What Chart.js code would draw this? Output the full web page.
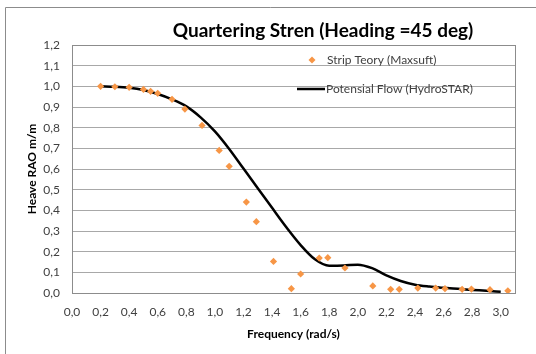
<!DOCTYPE html>
<html>
<head>
<meta charset="utf-8">
<script src="https://cdn.jsdelivr.net/npm/chart.js@4"></script>
<style>
  html, body { margin: 0; padding: 0; background: #fff; }
  #wrap { width: 536px; height: 354px; }
</style>
</head>
<body>
<div id="wrap"><canvas id="chart" width="536" height="354"></canvas></div>
<script>
// Strip theory points (Maxsurf)
const stripFreq = [0.20, 0.30, 0.40, 0.50, 0.55, 0.60, 0.70, 0.79, 0.91, 1.03, 1.10, 1.22, 1.29, 1.41, 1.535, 1.60, 1.73, 1.79, 1.91, 2.105, 2.23, 2.29, 2.42, 2.545, 2.61, 2.73, 2.795, 2.925, 3.05];
const stripRao  = [1.00, 0.998, 0.995, 0.985, 0.976, 0.966, 0.937, 0.89, 0.811, 0.69, 0.613, 0.44, 0.345, 0.153, 0.021, 0.092, 0.169, 0.171, 0.121, 0.034, 0.018, 0.018, 0.024, 0.024, 0.021, 0.018, 0.019, 0.016, 0.011];

// Potential flow curve (HydroSTAR)
const flowFreq = [0.2, 0.3, 0.4, 0.5, 0.6, 0.7, 0.8, 0.9, 1.0, 1.1, 1.2, 1.3, 1.4, 1.5, 1.6, 1.7, 1.8, 1.9, 2.0, 2.1, 2.2, 2.3, 2.4, 2.5, 2.6, 2.7, 2.8, 2.9, 3.0];
const flowRao  = [1.0, 0.998, 0.993, 0.982, 0.963, 0.937, 0.903, 0.850, 0.782, 0.697, 0.602, 0.507, 0.412, 0.318, 0.232, 0.163, 0.132, 0.133, 0.137, 0.12, 0.085, 0.058, 0.040, 0.031, 0.025, 0.020, 0.015, 0.011, 0.006];

const xTicks = [0, 0.2, 0.4, 0.6, 0.8, 1.0, 1.2, 1.4, 1.6, 1.8, 2.0, 2.2, 2.4, 2.6, 2.8, 3.0];

const chartTitle = 'Quartering Stren (Heading =45 deg)';
const xTitle = 'Frequency (rad/s)';
const yTitle = 'Heave RAO m/m';
const stripLabel = 'Strip Teory (Maxsuft)';
const flowLabel = 'Potensial Flow (HydroSTAR)';

const FONT = 'Lato, "Open Sans", sans-serif';
const ORANGE = '#F79646';

const toPts = (xs, ys) => xs.map((x, i) => ({ x: x, y: ys[i] }));
const fmt = v => v.toFixed(1).replace('.', ',');

// draws frame, title, axis titles and the legend like the excel sheet
const decor = {
  id: 'decor',
  beforeDraw(chart) {
    const c = chart.ctx;
    c.save();
    c.strokeStyle = '#8c8c8c';
    c.lineWidth = 1;
    c.beginPath();
    c.moveTo(5.5, 354);
    c.lineTo(5.5, 7.5);
    c.lineTo(536, 7.5);
    c.stroke();
    c.restore();
  },
  afterDraw(chart) {
    const c = chart.ctx;
    const a = chart.chartArea;
    c.save();
    // plot border
    c.strokeStyle = '#8c8c8c';
    c.lineWidth = 1;
    c.strokeRect(Math.round(a.left) + 0.5, Math.round(a.top) + 0.5, Math.round(a.right - a.left), Math.round(a.bottom - a.top));

    c.fillStyle = '#000';
    c.textAlign = 'center';
    c.textBaseline = 'middle';
    c.font = 'bold 19px ' + FONT;
    c.fillText(chartTitle, 323, 31);

    c.font = 'bold 12px ' + FONT;
    c.fillText(xTitle, (a.left + a.right) / 2, 334);
    c.save();
    c.translate(32, (a.top + a.bottom) / 2);
    c.rotate(-Math.PI / 2);
    c.fillText(yTitle, 0, 0);
    c.restore();

    // legend
    c.font = '12px ' + FONT;
    c.textAlign = 'left';
    c.fillStyle = '#404040';
    c.fillText(stripLabel, 327, 60);
    c.fillText(flowLabel, 326, 89);
    c.fillStyle = ORANGE;
    c.beginPath();
    c.moveTo(312, 56.5); c.lineTo(315.5, 60); c.lineTo(312, 63.5); c.lineTo(308.5, 60);
    c.closePath();
    c.fill();
    c.strokeStyle = '#000';
    c.lineWidth = 2.5;
    c.beginPath();
    c.moveTo(297, 89); c.lineTo(325, 89);
    c.stroke();
    c.restore();
  }
};

new Chart(document.getElementById('chart'), {
  type: 'scatter',
  data: {
    datasets: [
      {
        label: stripLabel,
        data: toPts(stripFreq, stripRao),
        pointStyle: 'rectRot',
        pointRadius: 3.6,
        pointBackgroundColor: ORANGE,
        pointBorderColor: ORANGE,
        pointBorderWidth: 0,
        showLine: false,
        order: 1
      },
      {
        label: flowLabel,
        data: toPts(flowFreq, flowRao),
        showLine: true,
        borderColor: '#000',
        borderWidth: 2.5,
        pointRadius: 0,
        cubicInterpolationMode: 'monotone',
        order: 2
      }
    ]
  },
  options: {
    responsive: false,
    animation: false,
    layout: { padding: { top: 45, right: 21, left: 0, bottom: 0 } },
    plugins: {
      legend: { display: false },
      title: { display: false },
      tooltip: { enabled: false }
    },
    scales: {
      x: {
        type: 'linear',
        min: 0,
        max: 3.1,
        afterFit: s => { s.height = 61; },
        afterBuildTicks: s => { s.ticks = xTicks.map(v => ({ value: v })); },
        grid: { display: false, drawTicks: false },
        border: { display: true, color: '#8c8c8c' },
        ticks: {
          padding: 12,
          color: '#404040',
          font: { family: FONT, size: 12 },
          maxRotation: 0,
          autoSkip: false,
          callback: v => fmt(v)
        }
      },
      y: {
        min: 0,
        max: 1.2,
        afterFit: s => { s.width = 72; },
        grid: { color: '#a8a8a8', drawTicks: false },
        border: { display: true, color: '#8c8c8c' },
        ticks: {
          stepSize: 0.1,
          padding: 12,
          color: '#404040',
          font: { family: FONT, size: 12 },
          callback: v => fmt(v)
        }
      }
    }
  },
  plugins: [decor]
});
</script>
</body>
</html>
